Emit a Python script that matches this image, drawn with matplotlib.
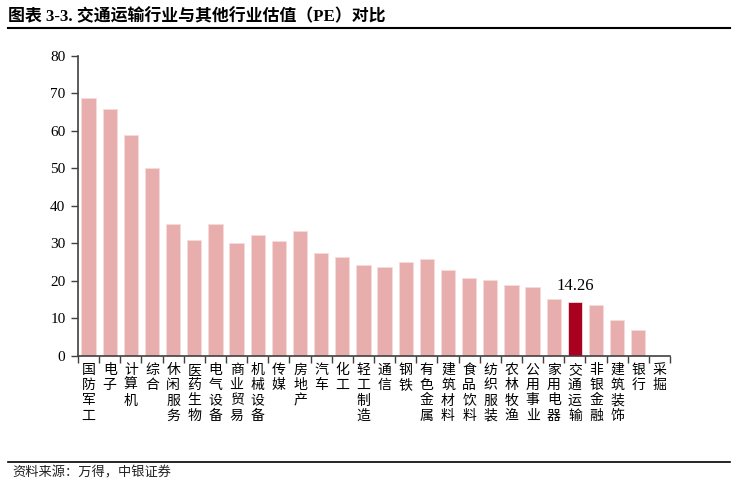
import numpy as np
import matplotlib.pyplot as plt
from matplotlib.ticker import FixedLocator

# 行业 PE
industries = ['国防军工', '电子', '计算机', '综合', '休闲服务', '医药生物', '电气设备',
              '商业贸易', '机械设备', '传媒', '房地产', '汽车', '化工', '轻工制造',
              '通信', '钢铁', '有色金属', '建筑材料', '食品饮料', '纺织服装',
              '农林牧渔', '公用事业', '家用电器', '交通运输', '非银金融', '建筑装饰',
              '银行', '采掘']
pe = [68.8, 65.9, 58.9, 50.2, 35.1, 30.9, 35.1, 30.1, 32.3, 30.7, 33.3, 27.4,
      26.4, 24.3, 23.8, 25.1, 25.8, 23.0, 20.7, 20.2, 18.9, 18.4, 15.2, 14.26,
      13.5, 9.4, 6.8, 0.0]
highlight = '交通运输'

cjk = ['Noto Sans CJK SC', 'DejaVu Sans']
serif = ['Liberation Serif', 'Noto Sans CJK SC']

fig = plt.figure(figsize=(7.35, 4.84), dpi=100)
ax = fig.add_axes([0.1061, 0.2651, 0.8055, 0.6192])

x = np.arange(len(industries))
colors = ['#A8001E' if n == highlight else '#E8ADAD' for n in industries]
bars = ax.bar(x, pe, width=0.68, color=colors, edgecolor='#F6DCDC', linewidth=0.6)

hi = industries.index(highlight)
ax.annotate(f'{pe[hi]:.2f}', (x[hi], pe[hi]), xytext=(0, 6), textcoords='offset points',
            ha='center', va='bottom', fontsize=12, family=serif)

ax.set_xlim(-0.5, len(industries) - 0.5)
ax.set_ylim(0, 80)
ax.set_yticks(np.arange(0, 81, 10))
ax.set_yticklabels([str(v) for v in range(0, 81, 10)], family=serif, fontsize=11)

ax.set_xticks(x)
ax.set_xticklabels(['\n'.join(n) for n in industries], family=cjk, fontsize=10,
                   linespacing=1.13, va='top')
ax.xaxis.set_minor_locator(FixedLocator(np.arange(-0.5, len(industries), 1)))
ax.tick_params(axis='x', which='major', length=0, pad=5)
ax.tick_params(axis='x', which='minor', length=5, width=1, color='#404040', direction='out')
ax.tick_params(axis='y', length=5, width=1, color='#404040', direction='out', pad=4)

for s in ['top', 'right']:
    ax.spines[s].set_visible(False)
for s in ['left', 'bottom']:
    ax.spines[s].set_color('#404040')
    ax.spines[s].set_linewidth(1.2)

# 标题与来源
fig.text(8 / 735, 1 - 17 / 484, '图表 3-3. 交通运输行业与其他行业估值（PE）对比',
         family=serif, fontweight='bold', fontsize=12.2, va='center', ha='left')
fig.add_artist(plt.Line2D([8 / 735, 730 / 735], [1 - 28 / 484, 1 - 28 / 484],
                          color='black', lw=1.5))
fig.add_artist(plt.Line2D([8 / 735, 730 / 735], [1 - 462 / 484, 1 - 462 / 484],
                          color='black', lw=1.2))
fig.text(12 / 735, 1 - 473 / 484, '资料来源：万得，中银证券', family=cjk,
         fontsize=9.5, va='center', ha='left', color='#222222')

fig.savefig('out.png', dpi=100)
